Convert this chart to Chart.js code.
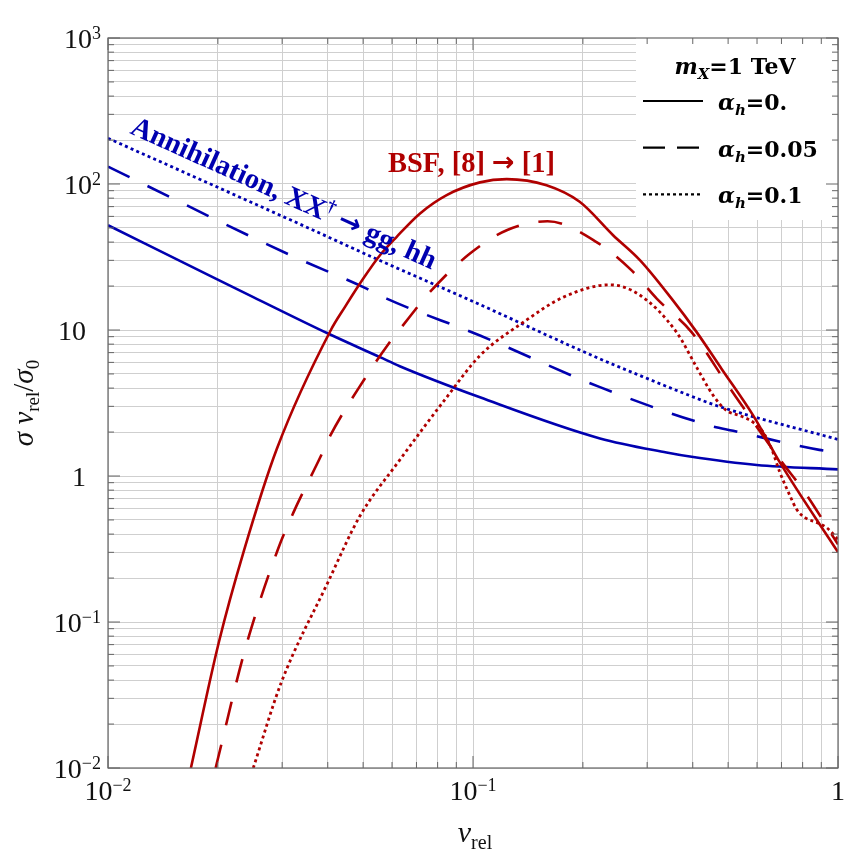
<!DOCTYPE html>
<html>
<head>
<meta charset="utf-8">
<script src="https://cdn.jsdelivr.net/npm/chart.js@4/dist/chart.umd.min.js"></script>
<style>
html,body{margin:0;padding:0;background:#fff;}
#wrap{width:865px;height:853px;}
</style>
</head>
<body>
<div id="wrap"><canvas id="c" width="865" height="853"></canvas></div>
<script>
// ---------------- DATA ----------------
// Annihilation XX† -> gg, hh   (blue)
const annV_a0  = [0.01, 0.01923, 0.025, 0.0402, 0.0556, 0.063, 0.1045, 0.2228, 0.339, 0.393, 0.599, 1.0];
const ann_a0   = [52.2, 23.2, 16.8, 9.42, 6.52, 5.65, 3.46, 1.81, 1.45, 1.36, 1.19, 1.11];
const annV_a05 = [0.01, 0.0309, 0.0511, 0.058, 0.1045, 0.2228, 0.4466, 0.516, 0.889, 1.0];
const ann_a05  = [131.5, 33.4, 19.2, 16.4, 9.16, 4.06, 2.21, 2.04, 1.51, 1.45];
const annV_a1  = [0.01, 0.0336, 0.0568, 0.0961, 0.2228, 0.287, 0.393, 0.4655, 1.0];
const ann_a1   = [205.6, 53, 29.2, 16.4, 6.34, 4.87, 3.55, 3.03, 1.78];
// BSF [8] -> [1]   (red)
const bsfV_a0  = [0.01687, 0.0201, 0.02363, 0.029, 0.0408, 0.0446, 0.05005, 0.0556, 0.0618, 0.0716, 0.0847, 0.1045, 0.1237, 0.159, 0.196, 0.242, 0.287, 0.35, 0.41, 0.48, 0.586, 0.693, 1.0];
const bsf_a0   = [0.01, 0.0718, 0.314, 1.53, 10, 14.4, 22.5, 32.5, 43.5, 62.9, 84, 102.6, 108, 98, 75.5, 44.6, 30, 16.4, 9.67, 5.41, 2.59, 1.24, 0.301];
const bsfV_a05 = [0.01972, 0.02373, 0.0292, 0.0322, 0.0383, 0.0406, 0.0504, 0.0586, 0.0638, 0.0762, 0.0981, 0.1237, 0.16, 0.218, 0.272, 0.3187, 0.397, 0.5, 0.693, 0.812, 1.0];
const bsf_a05  = [0.01, 0.0645, 0.314, 0.561, 1.37, 1.88, 4.6, 8.0, 10.5, 18.2, 33.4, 48.2, 55.6, 40, 25.6, 16.4, 9.67, 4.16, 1.3, 0.77, 0.34];
const bsfV_a1  = [0.025, 0.0298, 0.04, 0.049, 0.0623, 0.0847, 0.1045, 0.1374, 0.177, 0.237, 0.287, 0.361, 0.41, 0.4554, 0.4955, 0.539, 0.586, 0.624, 0.658, 0.693, 0.739, 0.77, 0.812, 0.874, 0.931, 1.0];
const bsf_a1   = [0.01, 0.0382, 0.186, 0.532, 1.24, 3.46, 6.68, 11.3, 16.8, 20.4, 17.3, 9.67, 5.55, 3.55, 2.80, 2.59, 2.33, 1.99, 1.53, 1.06, 0.73, 0.591, 0.519, 0.48, 0.443, 0.368];

// ticks
const xTickValues = [0.01, 0.1, 1];
const xTickLabels = ['10^−2', '10^−1', '1'];
const yTickValues = [0.01, 0.1, 1, 10, 100, 1000];
const yTickLabels = ['10^−2', '10^−1', '1', '10', '10^2', '10^3'];
const mantissas = [1, 2, 3, 4, 5, 6, 7, 8, 9];
const xDecades = [0.01, 0.1];
const yDecades = [0.01, 0.1, 1, 10, 100];

// texts
const legendLabels = ['0.', '0.05', '0.1'];
const annPieces = ['Annihilation, XX', '†', ' ', '→', ' gg, hh'];
const bsfPieces = ['BSF, [8] ', '→', ' [1]'];

// ---------------- helpers ----------------
const BLUE = '#0000b0', RED = '#b00000';
const SERIF = '"Liberation Serif", "Times New Roman", serif';
const BSERIF = '"DejaVu Serif", serif';
const ARROWF = '"DejaVu Sans", sans-serif';
function gridList(decades, top){
  const out = [];
  decades.forEach(d => mantissas.forEach(m => out.push(+(d*m).toPrecision(6))));
  out.push(top);
  return out;
}
const xGrid = gridList(xDecades, 1);
const yGrid = gridList(yDecades, 1000);
const pts = (xs, ys) => xs.map((v, i) => ({x: v, y: ys[i]}));

function richWidth(ctx, parts){
  let w = 0;
  parts.forEach(p => { ctx.font = p.f; w += ctx.measureText(p.t).width + (p.k || 0); });
  return w;
}
function drawRich(ctx, parts, x, y, align){
  const w = richWidth(ctx, parts);
  let cx = align === 'center' ? x - w/2 : (align === 'right' ? x - w : x);
  ctx.textAlign = 'left'; ctx.textBaseline = 'alphabetic';
  parts.forEach(p => { ctx.font = p.f; ctx.fillText(p.t, cx, y + (p.dy || 0)); cx += ctx.measureText(p.t).width + (p.k || 0); });
  return w;
}
function tickParts(lbl){
  const s = lbl.split('^');
  const parts = [{t: s[0], f: '28px ' + SERIF}];
  if (s.length > 1) parts.push({t: s[1], f: '18px ' + SERIF, dy: -9});
  return parts;
}
// annotation pieces -> rich parts at a given size (arrow in a sans font, dagger as superscript)
function annoParts(pieces, size){
  return pieces.map(t => {
    if (t === '→') return {t, f: 'bold ' + (size*0.95).toFixed(2) + 'px ' + ARROWF, dy: -size*0.02};
    if (t === '†') return {t, f: 'bold ' + (size*0.62).toFixed(2) + 'px ' + SERIF, dy: -size*0.38};
    return {t, f: 'bold ' + size.toFixed(2) + 'px ' + SERIF};
  });
}
function fitParts(ctx, pieces, target){
  const w = richWidth(ctx, annoParts(pieces, 20));
  return annoParts(pieces, 20 * target / w);
}

const ds = (label, xs, ys, color, dash, width) => ({
  label, data: pts(xs, ys), borderColor: color, borderWidth: width || 2.6,
  borderDash: dash || [], borderCapStyle: 'butt', pointRadius: 0,
  cubicInterpolationMode: 'monotone', fill: false
});

const decor = {
  id: 'decor',
  afterDatasetsDraw(chart){
    const {ctx, chartArea: a, scales: {x, y}} = chart;
    ctx.save();
    // legend box
    const bx = a.right - 202, by = a.top, bw = 202, bh = 182;
    ctx.fillStyle = '#fff';
    ctx.fillRect(bx, by, bw, bh);
    ctx.fillStyle = '#000';
    drawRich(ctx, [
      {t: 'm', f: 'italic bold 22px ' + BSERIF},
      {t: 'X', f: 'italic bold 15px ' + BSERIF, dy: 5},
      {t: '=1 TeV', f: 'bold 22px ' + BSERIF}
    ], bx + 99, by + 36, 'center');
    const dashes = [[], [22, 12], [3, 3]];
    for (let i = 0; i < 3; i++){
      const ly = by + 63 + i*46.7;
      ctx.strokeStyle = '#000'; ctx.lineWidth = 2.2; ctx.lineCap = 'butt';
      ctx.setLineDash(dashes[i]);
      ctx.beginPath(); ctx.moveTo(bx + 7, ly); ctx.lineTo(bx + 67, ly); ctx.stroke();
      ctx.setLineDash([]);
      drawRich(ctx, [
        {t: 'α', f: 'italic bold 22px ' + BSERIF},
        {t: 'h', f: 'italic bold 15px ' + BSERIF, dy: 5},
        {t: '=' + legendLabels[i], f: 'bold 22px ' + BSERIF}
      ], bx + 82, ly + 9, 'left');
    }
    // annotations
    ctx.fillStyle = BLUE;
    ctx.save();
    ctx.translate(a.left + 21, a.top + 95);
    ctx.rotate(24.3 * Math.PI / 180);
    drawRich(ctx, fitParts(ctx, annPieces, 332), 0, 0, 'left');
    ctx.restore();
    ctx.fillStyle = RED;
    drawRich(ctx, fitParts(ctx, bsfPieces, 167), a.left + 280, a.top + 134, 'left');

    // frame + inward ticks
    ctx.strokeStyle = '#666'; ctx.lineWidth = 1.2;
    ctx.strokeRect(a.left, a.top, a.right - a.left, a.bottom - a.top);
    ctx.lineWidth = 1;
    ctx.beginPath();
    xGrid.forEach(v => {
      const px = x.getPixelForValue(v);
      const len = xTickValues.includes(v) ? 12 : 6;
      ctx.moveTo(px, a.bottom); ctx.lineTo(px, a.bottom - len);
      ctx.moveTo(px, a.top); ctx.lineTo(px, a.top + len);
    });
    yGrid.forEach(v => {
      const py = y.getPixelForValue(v);
      const len = yTickValues.includes(v) ? 12 : 6;
      ctx.moveTo(a.left, py); ctx.lineTo(a.left + len, py);
      ctx.moveTo(a.right, py); ctx.lineTo(a.right - len, py);
    });
    ctx.stroke();

    // tick labels
    ctx.fillStyle = '#111';
    xTickValues.forEach((v, i) => {
      drawRich(ctx, tickParts(xTickLabels[i]), x.getPixelForValue(v), a.bottom + 32, 'center');
    });
    yTickValues.forEach((v, i) => {
      const p = tickParts(yTickLabels[i]);
      const right = p.length > 1 ? a.left - 7 : a.left - 22;
      drawRich(ctx, p, right, y.getPixelForValue(v) + 10, 'right');
    });

    // axis titles
    drawRich(ctx, [
      {t: 'v', f: 'italic 30px ' + SERIF},
      {t: 'rel', f: '20px ' + SERIF, dy: 7}
    ], (a.left + a.right)/2 + 2, a.bottom + 74, 'center');
    ctx.save();
    ctx.translate(a.left - 75, (a.top + a.bottom)/2);
    ctx.rotate(-Math.PI/2);
    drawRich(ctx, [
      {t: 'σ ', f: 'italic 29px ' + SERIF},
      {t: 'v', f: 'italic 29px ' + SERIF},
      {t: 'rel', f: '19px ' + SERIF, dy: 6},
      {t: '/', f: '29px ' + SERIF},
      {t: 'σ', f: 'italic 29px ' + SERIF},
      {t: '0', f: '19px ' + SERIF, dy: 6}
    ], 0, 0, 'center');
    ctx.restore();
    ctx.restore();
  }
};

const gridColor = (ctx) => '#cfcfcf';

new Chart(document.getElementById('c'), {
  type: 'line',
  data: {
    datasets: [
      ds('BSF α=0', bsfV_a0, bsf_a0, RED),
      ds('BSF α=0.05', bsfV_a05, bsf_a05, RED, [24, 20]),
      ds('BSF α=0.1', bsfV_a1, bsf_a1, RED, [3, 3.2], 2.8),
      ds('Ann α=0', annV_a0, ann_a0, BLUE),
      ds('Ann α=0.05', annV_a05, ann_a05, BLUE, [24, 20]),
      ds('Ann α=0.1', annV_a1, ann_a1, BLUE, [3, 3.2], 2.8)
    ]
  },
  options: {
    responsive: false,
    devicePixelRatio: 1,
    animation: false,
    events: [],
    layout: {padding: {left: 108, right: 27, top: 38, bottom: 85}},
    plugins: {legend: {display: false}, tooltip: {enabled: false}, title: {display: false}},
    scales: {
      x: {
        type: 'logarithmic', min: 0.01, max: 1,
        afterBuildTicks: s => { s.ticks = xGrid.map(v => ({value: v})); },
        ticks: {display: false},
        grid: {color: gridColor, lineWidth: 1, drawTicks: false},
        border: {display: false},
        title: {display: false}
      },
      y: {
        type: 'logarithmic', min: 0.01, max: 1000,
        afterBuildTicks: s => { s.ticks = yGrid.map(v => ({value: v})); },
        ticks: {display: false},
        grid: {color: gridColor, lineWidth: 1, drawTicks: false},
        border: {display: false},
        title: {display: false}
      }
    }
  },
  plugins: [decor]
});
</script>
</body>
</html>
